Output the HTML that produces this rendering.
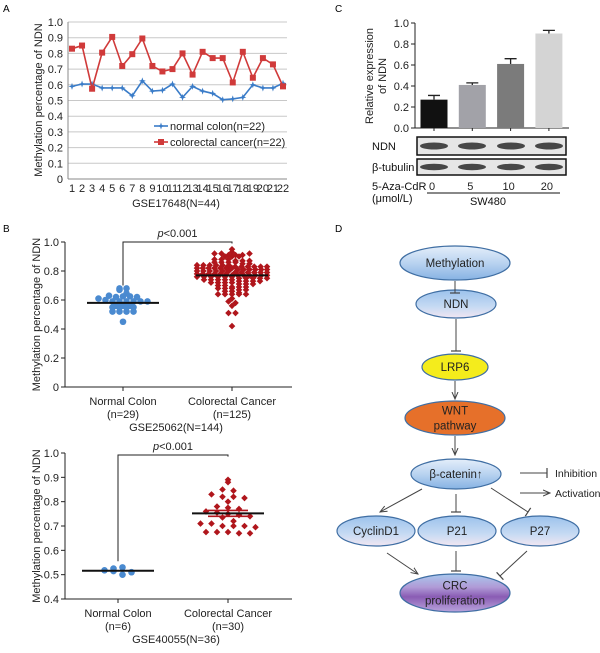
<!DOCTYPE html>
<html><head><meta charset="utf-8"><style>
html,body{margin:0;padding:0;background:#fff;}
svg{display:block;font-family:"Liberation Sans",Arial,sans-serif;}
</style></head><body>
<svg id="fig" width="600" height="653" viewBox="0 0 600 653" xmlns="http://www.w3.org/2000/svg">
<defs>
<linearGradient id="gBlue" x1="0" y1="0" x2="0" y2="1"><stop offset="0" stop-color="#e4eefa"/><stop offset="0.5" stop-color="#b9d3f0"/><stop offset="1" stop-color="#86b2e3"/></linearGradient>
<linearGradient id="gBlue2" x1="0" y1="0" x2="0" y2="1"><stop offset="0" stop-color="#9cc2ec"/><stop offset="0.6" stop-color="#c6daf3"/><stop offset="1" stop-color="#f2e6f2"/></linearGradient>
<linearGradient id="gPurple" x1="0" y1="0" x2="0" y2="1"><stop offset="0" stop-color="#a9c8ee"/><stop offset="0.35" stop-color="#b09ad6"/><stop offset="0.6" stop-color="#8a5cb4"/><stop offset="1" stop-color="#b9a4dc"/></linearGradient>
<marker id="arr" markerWidth="8" markerHeight="8" refX="7" refY="4" orient="auto" markerUnits="userSpaceOnUse"><path d="M0,1 L7,4 L0,7" fill="none" stroke="#444" stroke-width="1"/></marker>
<marker id="tee" markerWidth="10" markerHeight="10" refX="1" refY="5" orient="auto" markerUnits="userSpaceOnUse"><path d="M1,0 L1,10" stroke="#444" stroke-width="1.2"/></marker>
</defs>
<g id="panelA"></g>
<g id="panelC"></g>
<g id="panelB1"></g>
<g id="panelB2"></g>
<g id="panelD"></g>
</svg>
<script>
// ---- Panel A data ----
const aCategories = [1,2,3,4,5,6,7,8,9,10,11,12,13,14,15,16,17,18,19,20,21,22];
const aNormal = [0.59,0.605,0.605,0.58,0.58,0.58,0.53,0.625,0.56,0.565,0.605,0.52,0.59,0.56,0.545,0.505,0.51,0.52,0.60,0.58,0.58,0.61];
const aCancer = [0.83,0.85,0.575,0.805,0.905,0.72,0.795,0.895,0.72,0.685,0.70,0.80,0.665,0.81,0.77,0.77,0.615,0.81,0.645,0.77,0.73,0.59];
const aTicks = [0,0.1,0.2,0.3,0.4,0.5,0.6,0.7,0.8,0.9,1.0];
const aTickLabels = ["0","0.1","0.2","0.3","0.4","0.5","0.6","0.7","0.8","0.9","1.0"];
// ---- Panel C data ----
const cDoses = ["0","5","10","20"];
const cValues = [0.27,0.41,0.61,0.90];
const cErrors = [0.04,0.02,0.05,0.03];
const cTicks = [0,0.2,0.4,0.6,0.8,1.0];
const cTickLabels = ["0.0","0.2","0.4","0.6","0.8","1.0"];
// ---- Panel B top data ----
const b1Normal = [0.68,0.67,0.68,0.645,0.63,0.62,0.625,0.625,0.61,0.62,0.60,0.59,0.59,0.59,0.59,0.59,0.59,0.56,0.56,0.56,0.55,0.55,0.55,0.55,0.52,0.52,0.52,0.52,0.45];
const b1Cancer = [0.95,0.93,0.92,0.92,0.91,0.91,0.90,0.90,0.90,0.91,0.92,
 0.88,0.88,0.88,0.87,0.87,0.87,0.86,0.86,0.86,0.86,0.85,0.85,
 0.84,0.84,0.84,0.84,0.84,0.84,0.83,0.83,0.83,0.83,0.83,0.83,0.82,0.82,0.82,0.82,0.82,0.82,0.82,0.81,0.81,0.81,0.81,0.81,0.81,0.80,0.80,0.80,0.80,0.80,0.80,
 0.79,0.79,0.79,0.79,0.79,0.79,0.78,0.78,0.78,0.78,0.78,0.78,0.77,0.77,0.77,0.77,0.77,0.77,0.77,0.76,0.76,0.76,0.76,0.76,0.76,0.75,0.75,0.75,0.75,0.75,
 0.74,0.74,0.74,0.74,0.74,0.73,0.73,0.73,0.73,0.72,0.72,0.72,0.72,0.71,0.71,0.71,0.70,0.70,
 0.69,0.69,0.69,0.68,0.68,0.68,0.67,0.67,0.66,0.66,0.65,0.64,0.64,0.64,0.64,0.64,
 0.61,0.59,0.58,0.56,0.51,0.51,0.42];
const b1Means = [0.58,0.77];
const b1Ticks = [0,0.2,0.4,0.6,0.8,1.0];
const b1TickLabels = ["0","0.2","0.4","0.6","0.8","1.0"];
// ---- Panel B bottom data ----
const b2Normal = [0.525,0.518,0.515,0.50,0.51,0.53];
const b2Cancer = [0.89,0.88,0.85,0.845,0.83,0.82,0.82,0.815,0.80,0.78,0.775,0.77,0.76,0.755,0.75,0.745,0.74,0.735,0.72,0.71,0.71,0.70,0.70,0.70,0.695,0.675,0.675,0.675,0.67,0.67];
const b2Means = [0.516,0.752];
const b2Ticks = [0.4,0.5,0.6,0.7,0.8,0.9,1.0];
const b2TickLabels = ["0.4","0.5","0.6","0.7","0.8","0.9","1.0"];

const NS="http://www.w3.org/2000/svg";
function mk(parent, tag, attrs, text){
  const e=document.createElementNS(NS,tag);
  for(const k in attrs) e.setAttribute(k,attrs[k]);
  if(text!==undefined) e.textContent=text;
  parent.appendChild(e); return e;
}
function lin(d0,d1,r0,r1){return v=>r0+(v-d0)/(d1-d0)*(r1-r0);}

// ================= Panel A =================
(function(){
  const g=document.getElementById('panelA');
  const y=lin(0,1,179,22), x=i=>72+i*(283-72)/21;
  let t=mk(g,'text',{x:3,y:12,'font-size':10},'A');
   
  aTicks.forEach((v,i)=>{
    const gl=mk(g,'line',{x1:68,x2:287,y1:y(v),y2:y(v),stroke:i===0?'#888':'#c8c8c8','stroke-width':1});
     
    const tl=mk(g,'text',{x:63,y:y(v)+4,'font-size':11,'text-anchor':'end',fill:'#222'},aTickLabels[i]);
     
  });
  const ax=mk(g,'line',{x1:68,x2:68,y1:22,y2:179,stroke:'#888'});
   
  aCategories.forEach((c,i)=>{
    const tl=mk(g,'text',{x:x(i),y:192,'font-size':11,'text-anchor':'middle',fill:'#222'},String(c));
     
  });
  const xt=mk(g,'text',{x:176,y:207,'font-size':11,'text-anchor':'middle',fill:'#222'},'GSE17648(N=44)');
   
  const yt=mk(g,'text',{x:0,y:0,'font-size':11,'text-anchor':'middle',fill:'#222',transform:'translate(42,100) rotate(-90)'},'Methylation percentage of NDN');
   
  function series(vals,color,name,marker){
    const p=mk(g,'polyline',{points:vals.map((v,i)=>x(i)+','+y(v)).join(' '),fill:'none',stroke:color,'stroke-width':1.6});
     
    vals.forEach((v,i)=>{
      let m;
      if(marker==='sq') m=mk(g,'rect',{x:x(i)-3,y:y(v)-3,width:6,height:6,fill:color});
      else m=mk(g,'path',{d:`M${x(i)-3.5},${y(v)}L${x(i)},${y(v)-1.2}L${x(i)+3.5},${y(v)}L${x(i)},${y(v)+1.2}Z M${x(i)},${y(v)-3.5}L${x(i)+1.2},${y(v)}L${x(i)},${y(v)+3.5}L${x(i)-1.2},${y(v)}Z`,fill:color});
       
    });
  }
  series(aNormal,'#3a7cc8','normal-colon','st');
  series(aCancer,'#d03a3a','colorectal-cancer','sq');
  const l1=mk(g,'g',{});
   
  mk(l1,'line',{x1:154,x2:168,y1:126,y2:126,stroke:'#3a7cc8','stroke-width':1.6});
  mk(l1,'path',{d:'M157.5,126L161,124.8L164.5,126L161,127.2Z M161,122.5L162.2,126L161,129.5L159.8,126Z',fill:'#3a7cc8'});
  mk(l1,'text',{x:170,y:130,'font-size':11,fill:'#222'},'normal colon(n=22)');
  const l2=mk(g,'g',{});
   
  mk(l2,'line',{x1:154,x2:168,y1:142,y2:142,stroke:'#d03a3a','stroke-width':1.6});
  mk(l2,'rect',{x:158,y:139,width:6,height:6,fill:'#d03a3a'});
  mk(l2,'text',{x:170,y:146,'font-size':11,fill:'#222'},'colorectal cancer(n=22)');
})();

// ================= Panel C =================
(function(){
  const g=document.getElementById('panelC');
  const y=lin(0,1,128,23), x=i=>434+i*38.3;
  const colors=['#111111','#a2a2a8','#7b7b7b','#d4d4d4'];
  let t=mk(g,'text',{x:335,y:12,'font-size':10},'C');
   
  const ya=mk(g,'line',{x1:415,x2:415,y1:23,y2:128,stroke:'#222'});
   
  const xa=mk(g,'line',{x1:415,x2:569,y1:128,y2:128,stroke:'#222'});
   
  cTicks.forEach((v,i)=>{
    mk(g,'line',{x1:411,x2:415,y1:y(v),y2:y(v),stroke:'#222'});
    const tl=mk(g,'text',{x:409,y:y(v)+4,'font-size':11,'text-anchor':'end',fill:'#222'},cTickLabels[i]);
     
  });
  cValues.forEach((v,i)=>{
    mk(g,'line',{x1:x(i),x2:x(i),y1:128,y2:131,stroke:'#222'});
    const e=mk(g,'path',{d:`M${x(i)},${y(v)}V${y(v+cErrors[i])}M${x(i)-6},${y(v+cErrors[i])}H${x(i)+6}`,stroke:'#222','stroke-width':1.3,fill:'none'});
     
    const b=mk(g,'rect',{x:x(i)-13.5,y:y(v),width:27,height:128-y(v),fill:colors[i]});
     
    const dl=mk(g,'text',{x:x(i)-2,y:190,'font-size':11,'text-anchor':'middle',fill:'#222'},cDoses[i]);
     
  });
  const yt=mk(g,'text',{x:0,y:0,'font-size':11,'text-anchor':'middle',fill:'#222',transform:'translate(373,76) rotate(-90)'},'Relative expression');
   
  const yt2=mk(g,'text',{x:0,y:0,'font-size':11,'text-anchor':'middle',fill:'#222',transform:'translate(386,76) rotate(-90)'},'of NDN');
   
  [['NDN',137,155],['β-tubulin',159,175]].forEach(([lab,y0,y1])=>{
    const bg=mk(g,'g',{});
     
    mk(bg,'rect',{x:417,y:y0,width:149,height:y1-y0,fill:'#e6e6e6',stroke:'#111','stroke-width':1.5});
    [434,472,511,549].forEach(cx=>mk(bg,'ellipse',{cx:cx,cy:(y0+y1)/2,rx:14,ry:lab==='NDN'?3.5:3.2,fill:'#2a2a2a',opacity:0.85}));
    mk(g,'text',{x:372,y:(y0+y1)/2+4,'font-size':11,fill:'#111'},lab);
  });
  mk(g,'text',{x:372,y:190,'font-size':11,fill:'#111'},'5-Aza-CdR');
  mk(g,'text',{x:372,y:202,'font-size':11,fill:'#111'},'(μmol/L)');
  mk(g,'line',{x1:427,x2:560,y1:193,y2:193,stroke:'#111'});
  mk(g,'text',{x:488,y:205,'font-size':11,'text-anchor':'middle',fill:'#111'},'SW480');
})();

// row-binned scatter layout
function rows(vals,y,cx,bin,maxSp,halfW){
  const groups={};
  vals.forEach((v,i)=>{const k=Math.round(v/bin);(groups[k]=groups[k]||[]).push(i);});
  const out=new Array(vals.length);
  Object.values(groups).forEach(list=>{
    const n=list.length;
    const sp=n>1?Math.min(maxSp,2*halfW/(n-1)):0;
    list.forEach((i,j)=>{out[i]=[cx+(j-(n-1)/2)*sp,y(vals[i])];});
  });
  return out;
}
function scatterPanel(gid,normal,cancer,means,ticks,labels,d0,yTop,yBot,nx,cx,nLab,cLab,title,brN,brC,brTop,semC,opt){
  const g=document.getElementById(gid);
  const y=lin(d0,1,yBot,yTop);
  const ya=mk(g,'line',{x1:65,x2:65,y1:yTop,y2:yBot,stroke:'#222'});
   
  const xa=mk(g,'line',{x1:65,x2:292,y1:yBot,y2:yBot,stroke:'#222'});
   
  ticks.forEach((v,i)=>{
    mk(g,'line',{x1:61,x2:65,y1:y(v),y2:y(v),stroke:'#222'});
    const tl=mk(g,'text',{x:59,y:y(v)+4,'font-size':11,'text-anchor':'end',fill:'#222'},labels[i]);
     
  });
  [nx,cx].forEach(px=>mk(g,'line',{x1:px,x2:px,y1:yBot,y2:yBot+4,stroke:'#222'}));
  const yt=mk(g,'text',{x:0,y:0,'font-size':11,'text-anchor':'middle',fill:'#222',transform:`translate(40,${(yTop+yBot)/2}) rotate(-90)`},'Methylation percentage of NDN');
   
  [[nx,'Normal Colon',nLab],[cx,'Colorectal Cancer',cLab]].forEach(([px,a,b])=>{
    const l=mk(g,'text',{x:px,y:yBot+18,'font-size':11,'text-anchor':'middle',fill:'#222'},a);
     
    mk(g,'text',{x:px,y:yBot+31,'font-size':11,'text-anchor':'middle',fill:'#222'},b);
  });
  const tt=mk(g,'text',{x:176,y:yBot+44,'font-size':11,'text-anchor':'middle',fill:'#222'},title);
   
  const br=mk(g,'path',{d:`M${nx},${y(brN)}V${brTop}H${cx}V${y(brC)}`,fill:'none',stroke:'#222','stroke-width':1});
   
  const pt=mk(g,'text',{x:(nx+cx)/2,y:brTop-5,'font-size':11,'text-anchor':'middle',fill:'#222'});
   
  mk(pt,'tspan',{'font-style':'italic'},'p');
  mk(pt,'tspan',{},'<0.001');
  rows(normal,y,nx,opt.nb,opt.ns,opt.nw).forEach(([px,py])=>{
    const c=mk(g,'circle',{cx:px,cy:py,r:3.3,fill:'#4a8ad0'});
     
  });
  rows(cancer,y,cx,opt.cb,opt.cs,opt.cw).forEach(([px,py])=>{
    const c=mk(g,'path',{d:`M${px},${py-3.3}L${px+3.3},${py}L${px},${py+3.3}L${px-3.3},${py}Z`,fill:'#b0161c'});
     
  });
  if(semC){
    mk(g,'path',{d:`M${cx-20},${y(means[1]+semC)}H${cx+20}M${cx-20},${y(means[1]-semC)}H${cx+20}M${cx},${y(means[1]+semC)}V${y(means[1]-semC)}`,stroke:'#b0161c','stroke-width':1.6});
  }
  [[nx,means[0]],[cx,means[1]]].forEach(([px,m],i)=>{
    const ml=mk(g,'line',{x1:px-36,x2:px+36,y1:y(m),y2:y(m),stroke:'#111','stroke-width':2});
     
  });
}
(function(){
  const t=mk(document.getElementById('panelB1'),'text',{x:3,y:232,'font-size':10},'B');
   
})();
scatterPanel('panelB1',b1Normal,b1Cancer,b1Means,b1Ticks,b1TickLabels,0,242,387,123,232,'(n=29)','(n=125)','GSE25062(N=144)',0.70,0.99,242,0,{nb:0.03,ns:7,nw:36,cb:0.02,cs:7,cw:35});
scatterPanel('panelB2',b2Normal,b2Cancer,b2Means,b2Ticks,b2TickLabels,0.4,453,599,118,228,'(n=6)','(n=30)','GSE40055(N=36)',0.555,0.985,455,0.012,{nb:0.05,ns:9,nw:25,cb:0.025,cs:11,cw:35});

// ================= Panel D =================
(function(){
  const g=document.getElementById('panelD');
  let t=mk(g,'text',{x:335,y:232,'font-size':10},'D');
   
  const nodes=[
    ['methylation-node',455,263,55,17,'url(#gBlue)',['Methylation']],
    ['ndn-node',456,304,40,14,'url(#gBlue2)',['NDN']],
    ['lrp6-node',455,367,33,13,'#f4ec1c',['LRP6']],
    ['wnt-pathway-node',455,418,50,17,'#e6702a',['WNT','pathway']],
    ['beta-catenin-node',456,474,45,15,'url(#gBlue)',['β-catenin↑']],
    ['cyclind1-node',376,531,39,15,'url(#gBlue2)',['CyclinD1']],
    ['p21-node',457,531,39,15,'url(#gBlue2)',['P21']],
    ['p27-node',540,531,39,15,'url(#gBlue2)',['P27']],
    ['crc-proliferation-node',455,593,55,19,'url(#gPurple)',['CRC','proliferation']]
  ];
  nodes.forEach(([n,cx,cy,rx,ry,f,lines])=>{
    const ng=mk(g,'g',{});
     
    mk(ng,'ellipse',{cx,cy,rx,ry,fill:f,stroke:'#3f6ea3','stroke-width':1.2});
    lines.forEach((s,i)=>mk(ng,'text',{x:cx,y:cy+4+(i-(lines.length-1)/2)*15,'font-size':11.5,'text-anchor':'middle',fill:'#222'},s));
  });
  const edges=[
    [455,281,455,293,'tee'],[456,319,456,351,'tee'],[455,381,455,399,'arr'],[455,436,455,455,'arr'],
    [422,489,380,512,'arr'],[456,494,456,512,'tee'],[491,488,528,512,'tee'],
    [387,553,418,574,'arr'],[456,551,456,571,'tee'],[527,551,500,576,'tee']
  ];
  edges.forEach(([x1,y1,x2,y2,m])=>{
    const e=mk(g,'line',{x1,y1,x2,y2,stroke:'#444','stroke-width':1,'marker-end':`url(#${m})`});
     
  });
  const l1=mk(g,'g',{});
   
  mk(l1,'line',{x1:520,y1:473,x2:547,y2:473,stroke:'#444','marker-end':'url(#tee)'});
  mk(l1,'text',{x:555,y:477,'font-size':10.5,fill:'#222'},'Inhibition');
  const l2=mk(g,'g',{});
   
  mk(l2,'line',{x1:520,y1:493,x2:550,y2:493,stroke:'#444','marker-end':'url(#arr)'});
  mk(l2,'text',{x:555,y:497,'font-size':10.5,fill:'#222'},'Activation');
})();
</script>
</body></html>
